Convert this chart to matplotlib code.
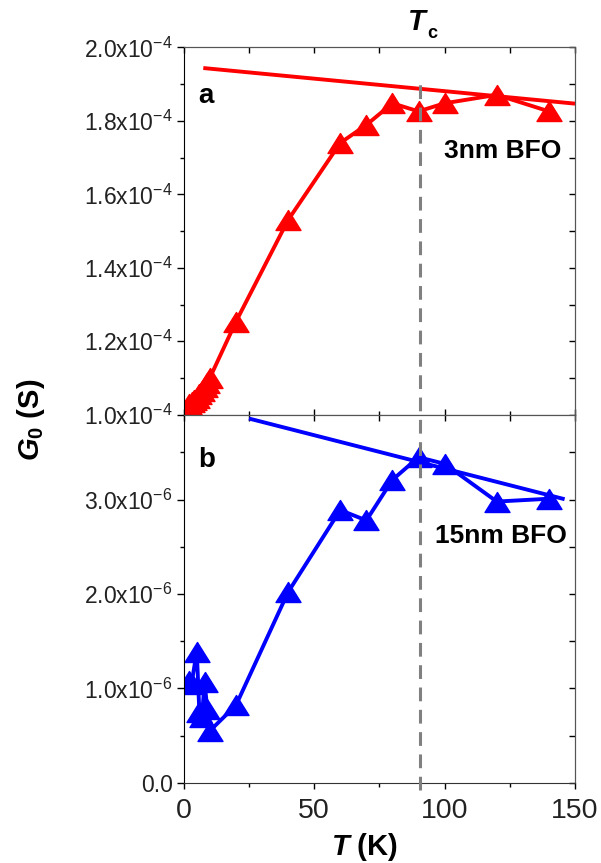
import numpy as np
import matplotlib
matplotlib.use("Agg")
import matplotlib.pyplot as plt
from matplotlib.lines import Line2D
from matplotlib.path import Path
from matplotlib.ticker import MultipleLocator, FuncFormatter
import matplotlib.transforms as mtransforms

plt.rcParams['font.family'] = ['Liberation Sans', 'DejaVu Sans']
plt.rcParams['mathtext.fontset'] = 'custom'
plt.rcParams['mathtext.rm'] = 'Liberation Sans'
plt.rcParams['mathtext.it'] = 'Liberation Sans:italic:bold'
plt.rcParams['mathtext.bf'] = 'Liberation Sans:bold'
plt.rcParams['mathtext.default'] = 'regular'

# panel a: 3nm BFO
T_3nm = [2, 3, 4, 5, 6, 7, 8, 9, 10, 20, 40, 60, 70, 80, 90, 100, 120, 140]
G_3nm = [1.030e-4, 1.035e-4, 1.040e-4, 1.046e-4, 1.055e-4, 1.065e-4, 1.075e-4,
         1.086e-4, 1.100e-4, 1.253e-4, 1.530e-4, 1.740e-4, 1.789e-4, 1.848e-4,
         1.826e-4, 1.848e-4, 1.871e-4, 1.826e-4]
fit_T_3nm = [7.5, 150]
fit_G_3nm = [1.944e-4, 1.847e-4]

# panel b: 15nm BFO
T_15nm = [2, 3, 5, 6, 7, 8, 9, 10, 20, 40, 60, 70, 80, 90, 100, 120, 140]
G_15nm = [1.08e-6, 1.05e-6, 1.39e-6, 0.75e-6, 0.70e-6, 1.07e-6, 0.78e-6, 0.55e-6,
          0.82e-6, 2.02e-6, 2.89e-6, 2.78e-6, 3.21e-6, 3.45e-6, 3.38e-6, 2.98e-6,
          3.01e-6]
fit_T_15nm = [25, 146]
fit_G_15nm = [3.86e-6, 3.005e-6]

Tc = 90.5

# wide, flat triangle like the original markers
tri = Path([(0, 0.8), (-1, -0.8), (1, -0.8), (0, 0.8)],
           [Path.MOVETO, Path.LINETO, Path.LINETO, Path.CLOSEPOLY])


def sci_fmt(exp):
    def f(v, pos):
        if abs(v) < 1e-12:
            return '0.0'
        return '%.1fx10$^{%d}$' % (v / 10.0**exp, exp)
    return FuncFormatter(f)


def style_axis(ax, bottom_dir):
    ax.set_xlim(0, 150)
    ax.xaxis.set_major_locator(MultipleLocator(50))
    ax.xaxis.set_minor_locator(MultipleLocator(25))
    ax.tick_params(axis='y', which='both', direction='out', left=True, right=False,
                   labelsize=16.5, pad=3, colors='black', labelcolor='#222222')
    ax.tick_params(axis='y', which='major', length=5, width=1)
    ax.tick_params(axis='y', which='minor', length=3, width=1)
    ax.tick_params(axis='x', which='both', direction=bottom_dir, top=False,
                   labelsize=20.5, pad=7, labelcolor='#222222')
    ax.tick_params(axis='x', which='major', length=4, width=1)
    ax.tick_params(axis='x', which='minor', length=3, width=1)
    # inward ticks on the right and top, as in the original
    sec_y = ax.secondary_yaxis('right')
    sec_y.tick_params(direction='in', length=4, width=1, labelright=False)
    sec_y.spines['right'].set_color('#555555')
    sec_x = ax.secondary_xaxis('top')
    sec_x.tick_params(direction='in', length=4, width=1, labeltop=False)
    sec_x.spines['top'].set_color('#555555')
    return sec_x, sec_y


fig = plt.figure(figsize=(6.01, 8.63), dpi=100)
ax1 = fig.add_axes([0.3057, 0.5195, 0.6511, 0.4255])
ax2 = fig.add_axes([0.3057, 0.0930, 0.6511, 0.4264])

# panel a
ax1.plot(fit_T_3nm, fit_G_3nm, color='red', lw=2.8, solid_capstyle='butt')
ax1.plot(T_3nm, G_3nm, color='red', lw=2.8, marker=tri, ms=18, mew=1)
ax1.set_ylim(1.0e-4, 2.0e-4)
ax1.yaxis.set_major_locator(MultipleLocator(0.2e-4))
ax1.yaxis.set_minor_locator(MultipleLocator(0.1e-4))
ax1.yaxis.set_major_formatter(sci_fmt(-4))
sx1, sy1 = style_axis(ax1, 'in')
sx1.xaxis.set_major_locator(MultipleLocator(25))
sy1.yaxis.set_major_locator(MultipleLocator(0.1e-4))
ax1.tick_params(axis='x', labelbottom=False, direction='in')
ax1.text(0.037, 0.848, 'a', transform=ax1.transAxes, fontsize=20,
         fontweight='bold', va='baseline', ha='left')
ax1.text(0.966, 0.698, '3nm BFO', transform=ax1.transAxes, fontsize=19,
         fontweight='bold', va='baseline', ha='right')

# panel b
ax2.plot(fit_T_15nm, fit_G_15nm, color='blue', lw=2.8, solid_capstyle='butt')
ax2.plot(T_15nm, G_15nm, color='blue', lw=2.8, marker=tri, ms=18, mew=1)
ax2.set_ylim(0, 3.9e-6)
ax2.yaxis.set_major_locator(MultipleLocator(1.0e-6))
ax2.yaxis.set_minor_locator(MultipleLocator(0.5e-6))
ax2.yaxis.set_major_formatter(sci_fmt(-6))
sx2, sy2 = style_axis(ax2, 'out')
sx2.xaxis.set_major_locator(MultipleLocator(25))
sy2.yaxis.set_major_locator(MultipleLocator(0.5e-6))
ax2.text(0.037, 0.859, 'b', transform=ax2.transAxes, fontsize=20,
         fontweight='bold', va='baseline', ha='left')
ax2.text(0.979, 0.651, '15nm BFO', transform=ax2.transAxes, fontsize=19,
         fontweight='bold', va='baseline', ha='right')

for ax in (ax1, ax2):
    ax.spines['left'].set_color('black')
    ax.spines['bottom'].set_color('#333333')
    ax.spines['top'].set_color('#555555')
    ax.spines['right'].set_color('#555555')

# dashed Tc line running through both panels
trans = mtransforms.blended_transform_factory(ax2.transData, fig.transFigure)
fig.add_artist(Line2D([Tc, Tc], [1 - 790 / 863, 1 - 80 / 863], transform=trans,
                      color='#808080', lw=2.2, linestyle=(0, (4.5, 2.8)), zorder=5))

fig.text(408 / 601, 1 - 30 / 863, 'T', fontsize=21, fontweight='bold',
         fontstyle='italic', ha='left', va='baseline')
fig.text(427 / 601, 1 - 37.5 / 863, 'c', fontsize=13, fontweight='bold',
         ha='left', va='baseline')
fig.text(331 / 601, 1 - 855 / 863, r'$\mathit{T}$ (K)', fontsize=21,
         fontweight='bold', ha='left', va='baseline')
fig.text(0.052, 1 - 420 / 863, r'$\mathit{G}_{\mathbf{0}}$ (S)', fontsize=21,
         fontweight='bold', rotation=90, ha='center', va='center')

fig.savefig('out.png', dpi=100)
